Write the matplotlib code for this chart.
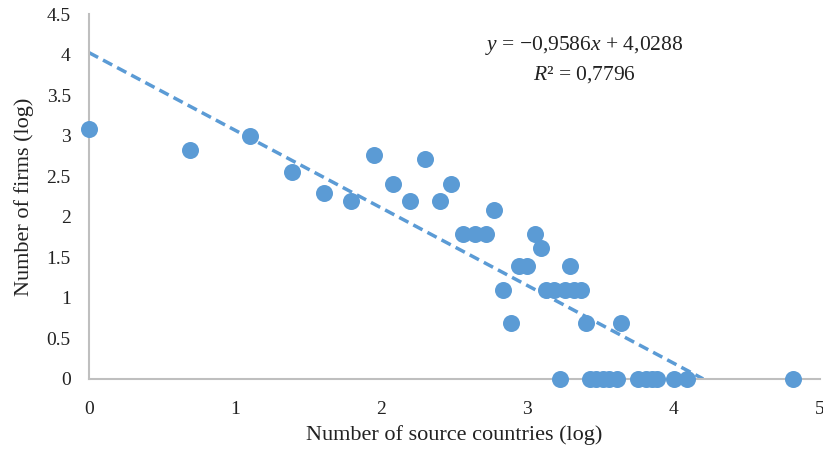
import matplotlib
matplotlib.use("Agg")
import matplotlib.pyplot as plt
import numpy as np

plt.rcParams['font.family'] = ['Liberation Serif', 'DejaVu Serif']
plt.rcParams['mathtext.fontset'] = 'custom'
plt.rcParams['mathtext.rm'] = 'Liberation Serif'
plt.rcParams['mathtext.it'] = 'Liberation Serif:italic'

# log number of source countries / log number of firms
source_countries = [0.0, 0.69, 1.10, 1.39, 1.61, 1.79, 1.95, 2.08, 2.20, 2.30,
                    2.40, 2.48, 2.56, 2.64, 2.72, 2.77, 2.83, 2.89, 2.94, 3.00,
                    3.05, 3.09, 3.13, 3.18, 3.26, 3.29, 3.32, 3.37, 3.40, 3.64,
                    3.22, 3.43, 3.47, 3.52, 3.56, 3.61, 3.76, 3.81, 3.85, 3.89,
                    4.00, 4.09, 4.82]
firms = [3.09, 2.83, 3.00, 2.56, 2.30, 2.20, 2.77, 2.40, 2.20, 2.71,
         2.20, 2.40, 1.79, 1.79, 1.79, 2.08, 1.10, 0.69, 1.39, 1.39,
         1.79, 1.61, 1.10, 1.10, 1.10, 1.39, 1.10, 1.10, 0.69, 0.69,
         0, 0, 0, 0, 0, 0, 0, 0, 0, 0,
         0, 0, 0]

slope = -0.9586
intercept = 4.0288

blue = '#5B9BD5'
text_col = '#222222'
fig = plt.figure(figsize=(8.23, 4.5), dpi=100)
ax = fig.add_axes([0.108, 0.158, 0.888, 0.81])

ax.scatter(source_countries, firms, s=150, color=blue, zorder=3, linewidths=0, clip_on=False)

x_end = -intercept / slope
xs = np.array([0, x_end])
ax.plot(xs, slope * xs + intercept, color=blue, lw=2.5, ls=(0, (3, 1.6)), zorder=2)

ax.set_xlim(0, 5)
ax.set_ylim(0, 4.5)
ax.set_xticks([0, 1, 2, 3, 4, 5])
ax.set_xticklabels(['0', '1', '2', '3', '4', '5'])
ax.set_yticks(np.arange(0, 4.51, 0.5))
ax.set_yticklabels(['0', '0.5', '1', '1.5', '2', '2.5', '3', '3.5', '4', '4.5'])
ax.tick_params(length=0, labelsize=14, colors=text_col)
ax.tick_params(axis='y', pad=13)
ax.tick_params(axis='x', pad=16)

for s in ['top', 'right']:
    ax.spines[s].set_visible(False)
for s in ['left', 'bottom']:
    ax.spines[s].set_color('#BFBFBF')
    ax.spines[s].set_linewidth(1.5)

ax.set_xlabel('Number of source countries (log)', fontsize=16, color=text_col, labelpad=5)
ax.set_ylabel('Number of firms (log)', fontsize=16, color=text_col, labelpad=9)

ax.text(3.39, 4.12, '$y$ = \u22120,9586$x$ + 4,0288', fontsize=15.5, ha='center', va='center', color=text_col)
ax.text(3.39, 3.76, '$R$\u00b2 = 0,7796', fontsize=15.5, ha='center', va='center', color=text_col)

fig.savefig('out.png', dpi=100)
